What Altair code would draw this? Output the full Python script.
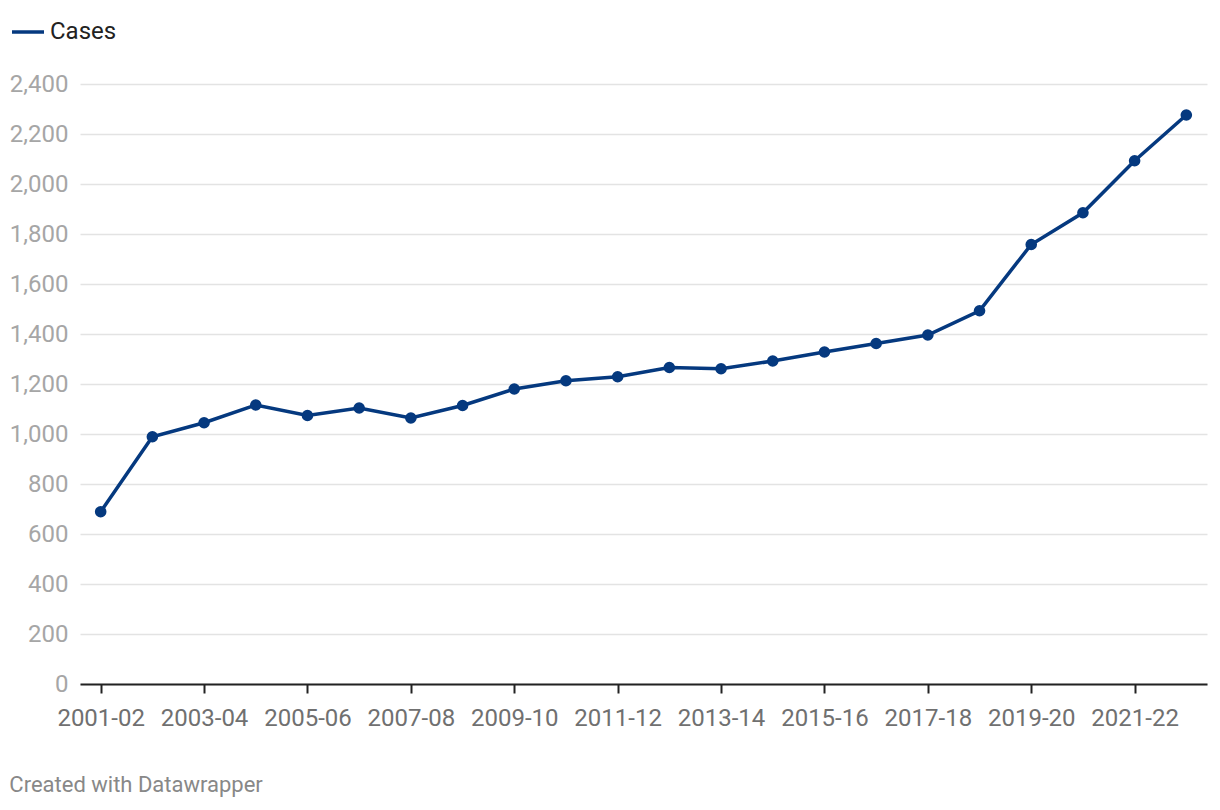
import altair as alt
import pandas as pd

years = ["2001-02", "2002-03", "2003-04", "2004-05", "2005-06", "2006-07",
         "2007-08", "2008-09", "2009-10", "2010-11", "2011-12", "2012-13",
         "2013-14", "2014-15", "2015-16", "2016-17", "2017-18", "2018-19",
         "2019-20", "2020-21", "2021-22", "2022-23"]
cases = [689, 989, 1045, 1116, 1074, 1104, 1064, 1114, 1180, 1213, 1229,
         1266, 1261, 1292, 1328, 1362, 1396, 1493, 1758, 1885, 2093, 2276]
series = ["Cases"] * len(years)
tick_years = years[::2]
y_ticks = list(range(0, 2401, 200))

df = pd.DataFrame({"year": years, "cases": cases, "series": series})

LINE = "#05397f"
FONT = "Roboto"

x = alt.X("year:N", sort=years, title=None,
          scale=alt.Scale(type="point", padding=0.4),
          axis=alt.Axis(values=tick_years, labelAngle=0, labelFontSize=24,
                        labelColor="#707070", labelFont=FONT, labelPadding=13,
                        domainColor="#222222", domainWidth=2,
                        tickColor="#222222", tickWidth=2, tickSize=9,
                        grid=False, labelOverlap=False))
y = alt.Y("cases:Q", title=None,
          scale=alt.Scale(domain=[0, 2400], nice=False),
          axis=alt.Axis(values=y_ticks, format=",d", labelFontSize=24,
                        labelColor="#a6a6a6", labelFont=FONT, labelPadding=12,
                        domain=False, ticks=False, grid=True,
                        gridColor="#e3e3e3", gridWidth=1.5))
color = alt.Color("series:N", title=None,
                  scale=alt.Scale(domain=["Cases"], range=[LINE]),
                  legend=alt.Legend(orient="none", legendX=-70, legendY=-70,
                                    symbolType="stroke", symbolSize=1024,
                                    symbolStrokeWidth=3.5, labelFontSize=24,
                                    labelFont=FONT, labelColor="#222222",
                                    labelOffset=4, padding=0))

line = alt.Chart(df).mark_line(strokeWidth=3.5).encode(x=x, y=y, color=color)
pts = alt.Chart(df).mark_point(filled=True, size=135, opacity=1).encode(
    x=x, y=y, color=alt.Color("series:N", scale=alt.Scale(domain=["Cases"], range=[LINE]), legend=None))

chart = (line + pts).properties(
    width=1127, height=600,
    background="white",
    padding={"left": 72, "top": 76, "right": 5, "bottom": 118},
    autosize=alt.AutoSizeParams(type="none"),
    title=alt.TitleParams("Created with Datawrapper", orient="bottom",
                          anchor="start", frame="bounds", fontSize=22,
                          font=FONT, fontWeight="normal", color="#888888",
                          offset=45),
).configure_view(stroke=None)

chart.save("out.html", embed_options={"renderer": "svg", "actions": False})
